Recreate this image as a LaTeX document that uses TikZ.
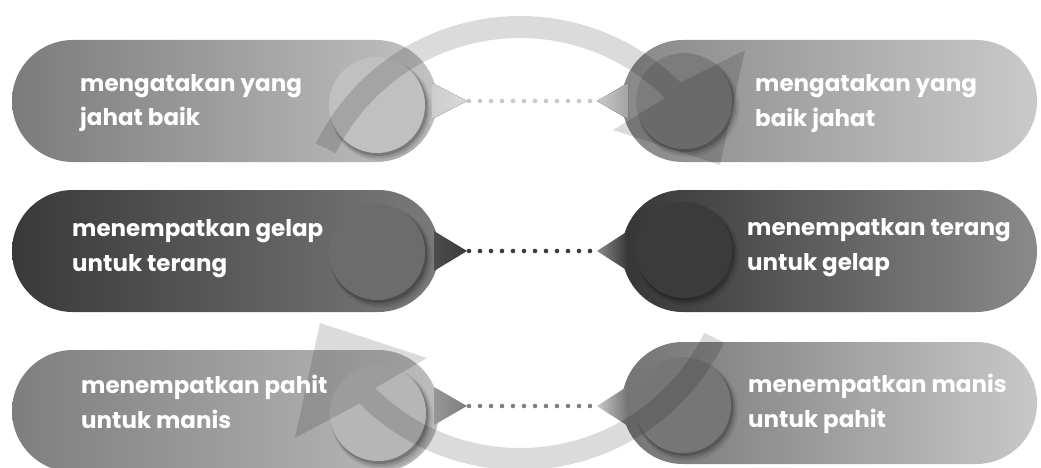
\documentclass[tikz,border=0pt]{standalone}
\usepackage{fontspec}
\setmainfont{Poppins}
\usetikzlibrary{calc}
\definecolor{pA1}{HTML}{7B7B7B}\definecolor{pA2}{HTML}{C2C2C2}
\definecolor{pB1}{HTML}{888888}\definecolor{pB2}{HTML}{CACACA}
\definecolor{pC1}{HTML}{393939}\definecolor{pC2}{HTML}{7A7A7A}
\definecolor{pD1}{HTML}{363636}\definecolor{pD2}{HTML}{8A8A8A}
\definecolor{pE1}{HTML}{7E7E7E}\definecolor{pE2}{HTML}{BCBCBC}
\definecolor{pF1}{HTML}{747474}\definecolor{pF2}{HTML}{C8C8C8}
\definecolor{cA}{HTML}{C0C0C0}\definecolor{cB}{HTML}{7C7C7C}
\definecolor{cC}{HTML}{6C6C6C}\definecolor{cD}{HTML}{3B3B3B}
\definecolor{cE}{HTML}{B6B6B6}\definecolor{cF}{HTML}{767676}
\definecolor{dA}{HTML}{C8C8C8}\definecolor{dC}{HTML}{3C3C3C}\definecolor{dE}{HTML}{808080}
\begin{document}
\begin{tikzpicture}[x=1pt,y=-1pt,
  pillshape/.style={rounded corners=60.9pt},
  disc/.style={circle,inner sep=0pt,minimum size=96pt},
  txt/.style={text=white,font=\bfseries\fontsize{23}{35}\selectfont,align=left,anchor=base west,inner sep=0pt},
  dotline/.style={line width=4.6pt,line cap=round,dash pattern=on 0pt off 11pt},
  band/.style={fill=black,fill opacity=0.14}
]
\useasboundingbox (0,0) rectangle (1041,468);
\fill[white] (0,0) rectangle (1041,468);

% ---------- pills ----------
\shade[pillshape,left color=pA1,right color=pA2] (12,40) rectangle (437,162);
\shade[pillshape,left color=pB1,right color=pB2] (622,40) rectangle (1037,162);
\shade[pillshape,left color=pC1,right color=pC2] (12,190) rectangle (439,312);
\shade[pillshape,left color=pD1,right color=pD2] (622,190) rectangle (1037,312);
\shade[pillshape,left color=pE1,right color=pE2] (12,350) rectangle (439,472);
\shade[pillshape,left color=pF1,right color=pF2] (622,342) rectangle (1037,464);

% ---------- pointer triangles ----------
\coordinate (L1) at (467,101);\coordinate (R1) at (597,101);
\coordinate (L2) at (467,251);\coordinate (R2) at (597,251);
\coordinate (L3) at (467,406);\coordinate (R3) at (597,406);
\fill[left color=cA!80!white,right color=cA!60!white] (432,83) -- (L1) -- (432,119) -- cycle;
\fill[left color=cB!40!white,right color=cB!70!white] (R1) -- (628,83) -- (628,119) -- cycle;
\shade[left color=pC1!70!pC2,right color=pC1] (434,231) -- (L2) -- (434,271) -- cycle;
\shade[left color=pD2,right color=pD1] (R2) -- (628,231) -- (628,271) -- cycle;
\shade[left color=pE2!80!black,right color=pE1] (434,387) -- (L3) -- (434,425) -- cycle;
\shade[left color=pF2,right color=pF1] (R3) -- (628,386) -- (628,426) -- cycle;

% ---------- dotted connectors ----------
\draw[dotline,dA] ([xshift=2pt]L1) -- ([xshift=-6pt]R1);
\draw[dotline,dC] ([xshift=2pt]L2) -- ([xshift=-6pt]R2);
\draw[dotline,dE] ([xshift=2pt]L3) -- ([xshift=-6pt]R3);

% ---------- discs with soft shadow ----------
\foreach \cx/\cy/\cc/\nm in {377/105/cA/c1,684/101/cB/c2,377/252/cC/c3,684/250/cD/c4,378/413/cE/c5,683/405/cF/c6}{
  \fill[black,opacity=0.08] (\cx+4,\cy+5) circle (51);
  \fill[black,opacity=0.12] (\cx+3,\cy+4) circle (49.5);
  \fill[black,opacity=0.18] (\cx+2,\cy+2.5) circle (48.5);
  \node[disc,fill=\cc] (\nm) at (\cx,\cy) {};
}

% ---------- big curved arrows ----------
\coordinate (O) at (520,243);
\fill[band] ($(O)+(-154:227)$) arc[start angle=-154,end angle=-45,radius=227]
   -- (745,50) -- (720,165) -- (613,130)
   -- ($(O)+(-45:205)$) arc[start angle=-45,end angle=-154,radius=205] -- cycle;
\begin{scope}[rotate around={180:(520,244)}]
\fill[band] ($(O)+(-154:227)$) arc[start angle=-154,end angle=-45,radius=227]
   -- (745,50) -- (720,165) -- (613,130)
   -- ($(O)+(-45:205)$) arc[start angle=-45,end angle=-154,radius=205] -- cycle;
\end{scope}

% ---------- texts ----------
\node[txt] (t1) at (80,126)  {mengatakan yang\\jahat baik};
\node[txt] (t2) at (755,127) {mengatakan yang\\baik jahat};
\node[txt] (t3) at (72,271) {menempatkan gelap\\untuk terang};
\node[txt] (t4) at (747,270) {menempatkan terang\\untuk gelap};
\node[txt] (t5) at (81,428) {menempatkan pahit\\untuk manis};
\node[txt] (t6) at (748,427) {menempatkan manis\\untuk pahit};
\end{tikzpicture}
\end{document}
